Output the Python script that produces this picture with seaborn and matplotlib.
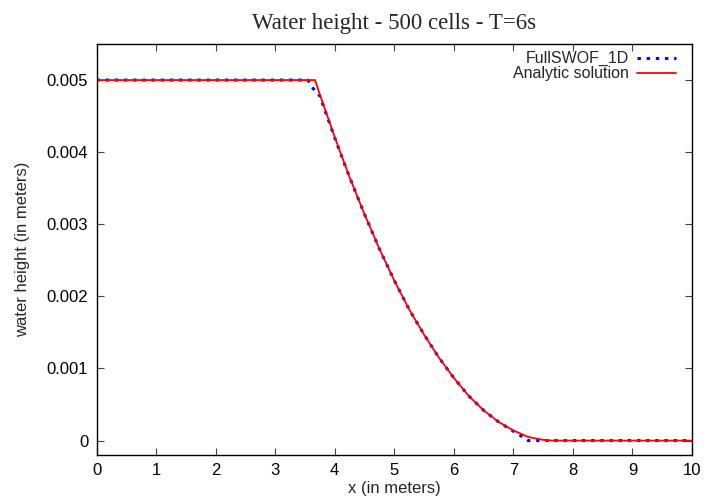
import numpy as np
import pandas as pd

import matplotlib

matplotlib.use("Agg")
import matplotlib.pyplot as plt
import seaborn as sns

# values
x_num = [0.0, 3.55, 3.62, 3.75, 4.0, 4.25, 4.5, 4.75, 5.0, 5.25, 5.5, 5.75,
         6.0, 6.25, 6.5, 6.75, 7.0, 7.1, 7.25, 10.0]
h_num = [0.00500, 0.00500, 0.00490, 0.00478, 0.00420, 0.00365, 0.00314,
         0.00266, 0.00222, 0.00182, 0.00147, 0.00115, 0.00087, 0.00062,
         0.00042, 0.00026, 0.00013, 0.00008, 0.0, 0.0]

x_ana = [0.0, 3.67, 3.75, 4.0, 4.25, 4.5, 4.75, 5.0, 5.25, 5.5, 5.75, 6.0,
         6.25, 6.5, 6.75, 7.0, 7.25, 7.5, 7.66, 10.0]
h_ana = [0.00500, 0.00500, 0.00480, 0.00421, 0.00365, 0.00314, 0.00266,
         0.00222, 0.00182, 0.00147, 0.00115, 0.00087, 0.00062, 0.00042,
         0.00026, 0.00014, 0.00005, 0.00001, 0.0, 0.0]

x_ticks = list(range(0, 11))
y_ticks = [0.0, 0.001, 0.002, 0.003, 0.004, 0.005]
y_tick_labels = ["0", "0.001", "0.002", "0.003", "0.004", "0.005"]

sns.set_theme(style="ticks")
plt.rcParams["font.family"] = ["Liberation Sans", "DejaVu Sans"]

num_df = pd.DataFrame({"x": x_num, "h": h_num})
ana_df = pd.DataFrame({"x": x_ana, "h": h_ana})

fig, ax = plt.subplots(figsize=(7.06, 5.0), dpi=100)
fig.subplots_adjust(left=0.1367, right=0.9802, bottom=0.09, top=0.912)

sns.lineplot(data=num_df, x="x", y="h", ax=ax, estimator=None, sort=False,
             color="#0000ff", linewidth=2.2, linestyle=(0, (1.1, 1.9)),
             label="FullSWOF_1D")
sns.lineplot(data=ana_df, x="x", y="h", ax=ax, estimator=None, sort=False,
             color="#ff0000", linewidth=1.3, label="Analytic solution")

ax.set_xlim(0, 10)
ax.set_ylim(-0.0002, 0.0055)
ax.set_xticks(x_ticks)
ax.set_yticks(y_ticks)
ax.set_yticklabels(y_tick_labels)

for side in ["top", "right", "left", "bottom"]:
    ax.spines[side].set_visible(True)
    ax.spines[side].set_color("black")
    ax.spines[side].set_linewidth(1.0)
ax.tick_params(direction="in", length=5, width=0.8, color="#444444",
               top=True, right=True, labelsize=12, labelcolor="black", pad=6)

ax.set_xlabel("x (in meters)", fontsize=12, labelpad=2)
ax.set_ylabel("water height (in meters)", fontsize=12, labelpad=12)
ax.set_title("Water height - 500 cells - T=6s", fontsize=16.5,
             family=["Liberation Serif", "DejaVu Serif"], pad=11)

ax.legend(loc="upper right", bbox_to_anchor=(0.99, 1.008), frameon=False,
          markerfirst=False, fontsize=11.5, handlelength=2.4, handletextpad=0.5,
          labelspacing=0.0, borderaxespad=0.25)

fig.savefig("out.png", dpi=100)
plt.close(fig)
